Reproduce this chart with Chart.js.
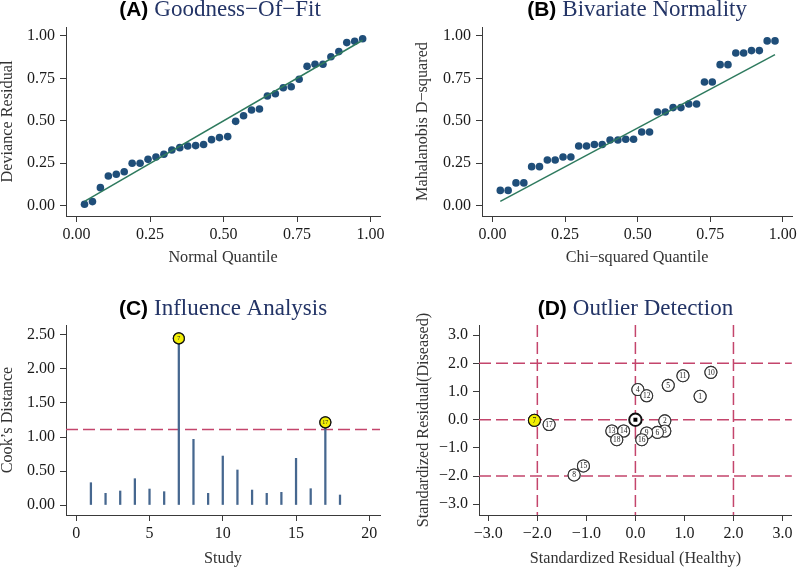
<!DOCTYPE html>
<html><head><meta charset="utf-8">
<script src="https://cdn.jsdelivr.net/npm/chart.js@4.4.1/dist/chart.umd.min.js"></script>
<style>
html,body{margin:0;padding:0;background:#fff;}
#wrap{position:relative;width:800px;height:569px;overflow:hidden;}
canvas{position:absolute;}
</style></head><body>
<div id="wrap">
<canvas id="cA" width="400" height="284" style="left:0;top:0"></canvas>
<canvas id="cB" width="400" height="284" style="left:400px;top:0"></canvas>
<canvas id="cC" width="400" height="285" style="left:0;top:284px"></canvas>
<canvas id="cD" width="400" height="285" style="left:400px;top:284px"></canvas>
</div>
<script>
// ---------- DATA ----------
const quantiles = [0.027,0.054,0.081,0.108,0.135,0.162,0.189,0.216,0.243,0.270,0.297,0.324,0.351,0.378,0.405,0.432,0.459,0.486,0.514,0.541,0.568,0.595,0.622,0.649,0.676,0.703,0.730,0.757,0.784,0.811,0.838,0.865,0.892,0.919,0.946,0.973];
const devianceResidual = [0.008,0.024,0.106,0.175,0.185,0.200,0.250,0.250,0.273,0.287,0.303,0.328,0.342,0.352,0.354,0.360,0.389,0.401,0.407,0.497,0.530,0.564,0.570,0.646,0.660,0.695,0.701,0.745,0.821,0.833,0.833,0.878,0.908,0.961,0.969,0.984];
const fitLineA = [[0.027,0.025],[0.973,0.975]];
const mahalanobisD2 = [0.090,0.090,0.134,0.134,0.230,0.230,0.269,0.269,0.287,0.287,0.352,0.352,0.360,0.360,0.387,0.387,0.391,0.391,0.434,0.434,0.552,0.552,0.578,0.578,0.599,0.599,0.729,0.729,0.831,0.831,0.900,0.900,0.914,0.914,0.971,0.971];
const fitLineB = [[0.027,0.025],[0.973,0.890]];
const studies = [1,2,3,4,5,6,7,8,9,10,11,12,13,14,15,16,17,18];
const cooksDistance = [0.328,0.172,0.206,0.387,0.235,0.196,2.45,0.966,0.172,0.72,0.515,0.22,0.172,0.186,0.686,0.24,1.216,0.147];
const cooksThreshold = 1.11;
const influentialStudies = [7,17];
const residHealthy  = [1.32,0.60,0.60,0.05,0.67,0.45,-2.06,-1.25,0.23,1.54,0.97,0.23,-0.48,-0.24,-1.06,0.13,-1.76,-0.38];
const residDiseased = [0.83,-0.04,-0.40,1.07,1.22,-0.45,-0.02,-1.96,-0.47,1.68,1.56,0.85,-0.40,-0.40,-1.64,-0.71,-0.17,-0.71];
const outlierStudies = [7];
const summaryPoint = [0,0];
const outlierCutoffs = [-2,0,2];
const ticksQuantile = [0,0.25,0.5,0.75,1];
const ticksCookY = [0,0.5,1,1.5,2,2.5];
const ticksStudy = [0,5,10,15,20];
const ticksResid = [-3,-2,-1,0,1,2,3];

// ---------- STYLE ----------
const SERIF = '"Liberation Serif","Times New Roman",serif';
const SANS = '"Liberation Sans",Arial,sans-serif';
const AX = '#3a3a3a';
const NAVY = '#1f4e79';
const GREEN = '#2e7a5e';
const DASH = '#c4456c';
const STEM = '#46678f';
const YELLOW = '#f2ee05';
const TITLE_NAVY = '#233466';

const titlePlugin = {
  id:'panelTitle',
  afterDraw(chart, args, o){
    if(!o || !o.text) return;
    const ctx = chart.ctx, ca = chart.chartArea;
    const cx = (ca.left + ca.right)/2 + (o.dx||0);
    ctx.save();
    const f1 = 'bold 21px ' + SANS, f2 = '23px ' + SERIF;
    ctx.font = f1; const w1 = ctx.measureText(o.tag).width;
    ctx.font = f2; const w2 = ctx.measureText(o.text).width;
    const sp = 6;
    const x = cx - (w1 + sp + w2)/2;
    ctx.textBaseline = 'alphabetic'; ctx.textAlign = 'left';
    ctx.font = f1; ctx.fillStyle = '#000'; ctx.fillText(o.tag, x, o.y);
    ctx.font = f2; ctx.fillStyle = TITLE_NAVY; ctx.fillText(o.text, x + w1 + sp, o.y);
    ctx.restore();
  }
};
const refLinePlugin = {
  id:'refLines',
  beforeDatasetsDraw(chart, args, o){
    if(!o) return;
    const ctx = chart.ctx, ca = chart.chartArea;
    ctx.save();
    ctx.strokeStyle = DASH; ctx.lineWidth = 1.5; ctx.setLineDash([12,5]);
    (o.x||[]).forEach(v=>{ const px = chart.scales.x.getPixelForValue(v); ctx.beginPath(); ctx.moveTo(px, ca.top); ctx.lineTo(px, ca.bottom); ctx.stroke(); });
    (o.y||[]).forEach(v=>{ const py = chart.scales.y.getPixelForValue(v); ctx.beginPath(); ctx.moveTo(ca.left, py); ctx.lineTo(ca.right, py); ctx.stroke(); });
    ctx.restore();
  }
};
const labelPlugin = {
  id:'ptLabels',
  afterDatasetsDraw(chart){
    const ctx = chart.ctx;
    chart.data.datasets.forEach((ds,i)=>{
      if(!ds.ptLabels) return;
      const meta = chart.getDatasetMeta(i);
      meta.data.forEach((el,j)=>{
        el.draw(ctx, chart.chartArea);
        ctx.save();
        ctx.font = (ds.ptFont||7) + 'px ' + SERIF; ctx.fillStyle = '#222';
        ctx.textAlign = 'center'; ctx.textBaseline = 'middle';
        ctx.fillText(ds.ptLabels[j], el.x, el.y + 0.5);
        ctx.restore();
      });
    });
  }
};
Chart.register(titlePlugin, refLinePlugin, labelPlugin);

function axis(horizontal, min, max, tickVals, fmt, titleText, size, titlePad){
  return {
    type:'linear', min, max, offset:false,
    border:{display:true, color:AX, width:1},
    grid:{display:true, drawOnChartArea:false, drawTicks:true, tickLength:6, color:AX, lineWidth:1, offset:false},
    ticks:{font:{family:SERIF, size:16}, color:'#1a1a1a', padding:horizontal?3:5, maxRotation:0, autoSkip:false, callback:(v)=>fmt(v)},
    title:{display:true, text:titleText, color:'#333', font:{family:SERIF, size:16.2, lineHeight:1},
           padding: horizontal ? {top:0,bottom:titlePad} : {top:titlePad,bottom:0}},
    afterBuildTicks: s => { s.ticks = tickVals.map(v=>({value:v})); },
    afterFit: s => { if(horizontal) s.height = size; else s.width = size; }
  };
}
const f2 = v => v.toFixed(2);
const fInt = v => String(v);
const f1m = v => (Math.abs(v)<1e-9?0:v).toFixed(1).replace('-', '\u2212');

const base = (pad, title, extra) => ({
  responsive:false, animation:false, devicePixelRatio:1, events:[],
  layout:{padding:pad},
  plugins:Object.assign({legend:{display:false}, tooltip:{enabled:false}, title:{display:false}, panelTitle:title}, extra||{})
});

// ---------- A ----------
new Chart(document.getElementById('cA'), {
  type:'scatter',
  data:{datasets:[
    {data: fitLineA.map(p=>({x:p[0],y:p[1]})), showLine:true, borderColor:GREEN, borderWidth:1.5, pointRadius:0},
    {data: quantiles.map((q,i)=>({x:q,y:devianceResidual[i]})), pointRadius:3.8, backgroundColor:NAVY, borderColor:NAVY, borderWidth:0}
  ]},
  options:Object.assign(base({top:27,right:20,bottom:0,left:0},{tag:'(A)',text:'Goodness\u2212Of\u2212Fit',y:16,dx:-3}),{
    scales:{
      x: axis(true,-0.036,1.032,ticksQuantile,f2,'Normal Quantile',68,18),
      y: axis(false,-0.061,1.053,ticksQuantile,f2,'Deviance Residual',66,0)
    }})
});

// ---------- B ----------
new Chart(document.getElementById('cB'), {
  type:'scatter',
  data:{datasets:[
    {data: fitLineB.map(p=>({x:p[0],y:p[1]})), showLine:true, borderColor:GREEN, borderWidth:1.5, pointRadius:0},
    {data: quantiles.map((q,i)=>({x:q,y:mahalanobisD2[i]})), pointRadius:3.8, backgroundColor:NAVY, borderColor:NAVY, borderWidth:0}
  ]},
  options:Object.assign(base({top:27,right:5,bottom:0,left:0},{tag:'(B)',text:'Bivariate Normality',y:16}),{
    scales:{
      x: axis(true,-0.036,1.032,ticksQuantile,f2,'Chi\u2212squared Quantile',68,18),
      y: axis(false,-0.061,1.053,ticksQuantile,f2,'Mahalanobis D\u2212squared',82,15)
    }})
});

// ---------- C ----------
new Chart(document.getElementById('cC'), {
  type:'bar',
  data:{datasets:[
    {type:'scatter', data: influentialStudies.map(s=>({x:s,y:cooksDistance[studies.indexOf(s)]})),
     ptLabels: influentialStudies.map(String), ptFont:6,
     pointRadius:5.5, backgroundColor:YELLOW, borderColor:'#111', borderWidth:1.2},
    {type:'bar', data: studies.map((s,i)=>({x:s,y:cooksDistance[i]})), backgroundColor:STEM, barThickness:1.6, borderWidth:0}
  ]},
  options:Object.assign(base({top:41,right:20,bottom:0,left:0},{tag:'(C)',text:'Influence Analysis',y:31},{refLines:{y:[cooksThreshold]}}),{
    scales:{
      x: axis(true,-0.7,20.73,ticksStudy,fInt,'Study',54,2.5),
      y: axis(false,-0.147,2.647,ticksCookY,f2,'Cook\u2019s Distance',66,0)
    }})
});

// ---------- D ----------
new Chart(document.getElementById('cD'), {
  type:'scatter',
  data:{datasets:[
    {data:[{x:summaryPoint[0],y:summaryPoint[1]}], pointStyle:'rect', pointRadius:2.8, backgroundColor:'#000', borderWidth:0},
    {data:[{x:summaryPoint[0],y:summaryPoint[1]}], pointRadius:6.2, backgroundColor:'#fff', borderColor:'#111', borderWidth:2},
    {data: studies.map((s,i)=>({x:residHealthy[i],y:residDiseased[i]})),
     ptLabels: studies.map(String), ptFont:7.5,
     pointRadius:6, borderWidth:1.1,
     backgroundColor: studies.map(s=>outlierStudies.includes(s)?YELLOW:'#fff'),
     borderColor: studies.map(s=>outlierStudies.includes(s)?'#111':'#333')}
  ]},
  options:Object.assign(base({top:41,right:5,bottom:0,left:0},{tag:'(D)',text:'Outlier Detection',y:31},{refLines:{x:outlierCutoffs,y:outlierCutoffs}}),{
    scales:{
      x: axis(true,-3.19,3.19,ticksResid,f1m,'Standardized Residual (Healthy)',54,2.5),
      y: axis(false,-3.38,3.36,ticksResid,f1m,'Standardized Residual(Diseased)',79,15.3)
    }})
});
</script>
</body></html>
